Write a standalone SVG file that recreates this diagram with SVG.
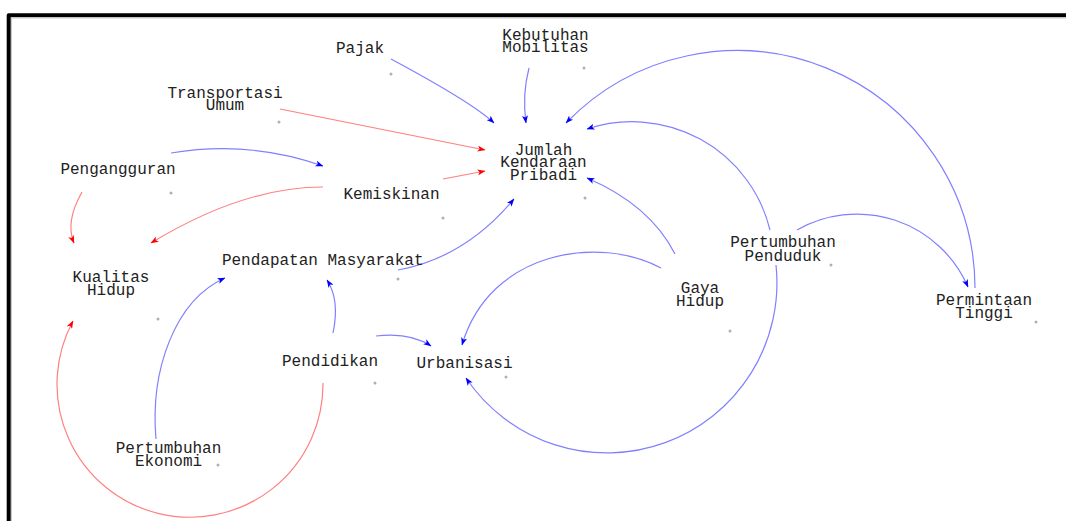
<svg xmlns="http://www.w3.org/2000/svg" width="1066" height="521" viewBox="0 0 1066 521">
<defs>
<style>
.t{font-family:"Liberation Mono","Courier New",monospace;font-size:16px;fill:#222;text-anchor:middle}
.b{fill:none;stroke:#8080ff;stroke-width:1.2}
.r{fill:none;stroke:#ff8080;stroke-width:1.2}
.b{marker-end:url(#ab)}
.r{marker-end:url(#ar)}
.d{fill:#b0b0b0}
</style>
<marker id="ab" viewBox="0 0 8 6" refX="7.5" refY="3" markerWidth="8" markerHeight="6" markerUnits="userSpaceOnUse" orient="auto"><path d="M0,0 L8,3 L0,6 L2,3 z" fill="#0000ff"/></marker>
<marker id="ar" viewBox="0 0 8 6" refX="7.5" refY="3" markerWidth="8" markerHeight="6" markerUnits="userSpaceOnUse" orient="auto"><path d="M0,0 L8,3 L0,6 L2,3 z" fill="#ff0000"/></marker>
</defs>
<rect width="1066" height="521" fill="#fff"/>
<path d="M8.7,521 V15.3 H1066" fill="none" stroke="#000" stroke-width="4" stroke-linejoin="round"/>
<path d="M11.5,521 V18 H1066" fill="none" stroke="#c8c8c8" stroke-width="1"/>
<g id="connectors">
<path class="b" d="M391,59 Q473,103 494,123"/>
<path class="b" d="M529,68 Q522,95 526,123"/>
<path class="r" d="M280,109 L485,150"/>
<path class="b" d="M171,153 Q250,140 323,166"/>
<path class="r" d="M443,179 L485,171"/>
<path class="r" d="M323,187 Q243,187 151,243"/>
<path class="r" d="M82,192 Q65,222 74,243"/>
<path class="b" d="M156,439 C150,370 175,300 225,278"/>
<path class="b" d="M333,333 Q340,300 327,280"/>
<path class="b" d="M376,336 Q410,332 431,346"/>
<path class="b" d="M398,270 Q465,258 514,199"/>
<path class="b" d="M675,254 Q650,205 587,178"/>
<path class="b" d="M661,268 C600,235 490,250 462,345"/>
<path class="b" d="M770,230 A142,142 0 0,0 587,129"/>
<path class="b" d="M776,265 A170,170 0 0,1 466,378"/>
<path class="b" d="M797,230 A121,121 0 0,1 968,287"/>
<path class="b" d="M975,288 A238,238 0 0,0 566,123"/>
<path class="r" d="M323,383 A133,133 0 1,1 73,321"/>
</g>
<g id="pajak"><text class="t" x="360" y="53">Pajak</text><circle class="d" cx="391" cy="74" r="1.5"/></g>
<g id="kebutuhan-mobilitas"><text class="t" x="545.5" y="39.5">Kebutuhan</text><text class="t" x="545.5" y="51.5">Mobilitas</text><circle class="d" cx="584" cy="68" r="1.5"/></g>
<g id="transportasi-umum"><text class="t" x="225" y="97.5">Transportasi</text><text class="t" x="225" y="110">Umum</text><circle class="d" cx="279" cy="122" r="1.5"/></g>
<g id="jumlah-kendaraan-pribadi"><text class="t" x="543.5" y="154.5">Jumlah</text><text class="t" x="543.5" y="167">Kendaraan</text><text class="t" x="543.5" y="179.5">Pribadi</text><circle class="d" cx="585" cy="198" r="1.5"/></g>
<g id="kemiskinan"><text class="t" x="391.5" y="199">Kemiskinan</text><circle class="d" cx="443" cy="218" r="1.5"/></g>
<g id="pengangguran"><text class="t" x="118" y="174">Pengangguran</text><circle class="d" cx="171" cy="193" r="1.5"/></g>
<g id="kualitas-hidup"><text class="t" x="111" y="282">Kualitas</text><text class="t" x="111" y="295">Hidup</text><circle class="d" cx="158" cy="319" r="1.5"/></g>
<g id="pendapatan-masyarakat"><text class="t" x="322.7" y="264.5">Pendapatan Masyarakat</text><circle class="d" cx="398" cy="279" r="1.5"/></g>
<g id="pendidikan"><text class="t" x="330" y="365.7">Pendidikan</text><circle class="d" cx="375" cy="383" r="1.5"/></g>
<g id="urbanisasi"><text class="t" x="464.5" y="367.7">Urbanisasi</text><circle class="d" cx="506" cy="377" r="1.5"/></g>
<g id="pertumbuhan-ekonomi"><text class="t" x="168.5" y="453.3">Pertumbuhan</text><text class="t" x="168.5" y="465.7">Ekonomi</text><circle class="d" cx="218" cy="465" r="1.5"/></g>
<g id="gaya-hidup"><text class="t" x="700" y="293.3">Gaya</text><text class="t" x="700" y="306">Hidup</text><circle class="d" cx="730" cy="331" r="1.5"/></g>
<g id="pertumbuhan-penduduk"><text class="t" x="783" y="247.3">Pertumbuhan</text><text class="t" x="783" y="260.7">Penduduk</text><circle class="d" cx="831" cy="265" r="1.5"/></g>
<g id="permintaan-tinggi"><text class="t" x="984" y="305">Permintaan</text><text class="t" x="984" y="318.3">Tinggi</text><circle class="d" cx="1036" cy="322" r="1.5"/></g>
</svg>
